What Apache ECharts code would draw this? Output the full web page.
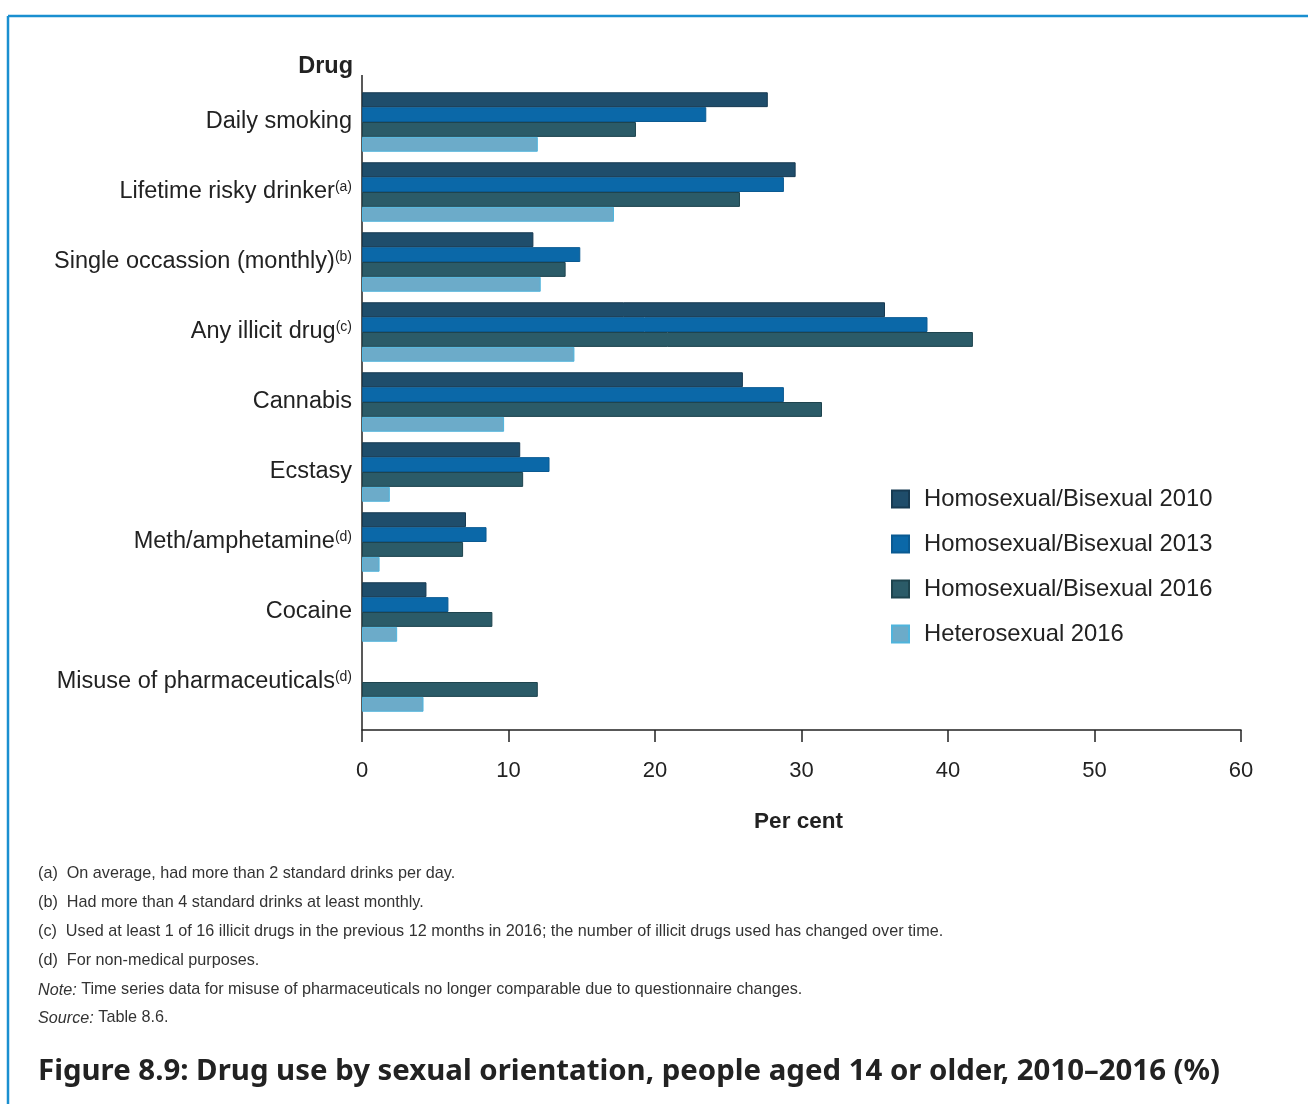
<!DOCTYPE html>
<html>
<head>
<meta charset="utf-8">
<script src="https://cdn.jsdelivr.net/npm/echarts@6/dist/echarts.min.js"></script>
<style>
html,body{margin:0;padding:0;background:#fff;}
#chart{width:1308px;height:1104px;}
</style>
</head>
<body>
<div id="chart"></div>
<script>
const categories = ['Daily smoking', 'Lifetime risky drinker{s|(a)}', 'Single occassion (monthly){s|(b)}', 'Any illicit drug{s|(c)}', 'Cannabis', 'Ecstasy', 'Meth/amphetamine{s|(d)}', 'Cocaine', 'Misuse of pharmaceuticals{s|(d)}'];
const seriesNames = ['Homosexual/Bisexual 2010', 'Homosexual/Bisexual 2013', 'Homosexual/Bisexual 2016', 'Heterosexual 2016'];
const homo2010 = [27.7, 29.6, 11.7, 35.7, 26.0, 10.8, 7.1, 4.4, null];
const homo2013 = [23.5, 28.8, 14.9, 38.6, 28.8, 12.8, 8.5, 5.9, null];
const homo2016 = [18.7, 25.8, 13.9, 41.7, 31.4, 11.0, 6.9, 8.9, 12.0];
const hetero2016 = [12.0, 17.2, 12.2, 14.5, 9.7, 1.9, 1.2, 2.4, 4.2];
const xTicks = [0, 10, 20, 30, 40, 50, 60];
const footnotes = [
  '(a)  On average, had more than 2 standard drinks per day.',
  '(b)  Had more than 4 standard drinks at least monthly.',
  '(c)  Used at least 1 of 16 illicit drugs in the previous 12 months in 2016; the number of illicit drugs used has changed over time.',
  '(d)  For non-medical purposes.'
];
const noteText = ['Note:', ' Time series data for misuse of pharmaceuticals no longer comparable due to questionnaire changes.'];
const sourceText = ['Source:', ' Table 8.6.'];
const figureTitle = 'Figure 8.9: Drug use by sexual orientation, people aged 14 or older, 2010\u20132016 (%)';

const colors = ['#1f4d6b', '#0b68a8', '#2b5b68', '#6cabc9'];
const borders = ['#173a52', '#0a5a92', '#1e444e', '#4fb4dc'];
const dataSets = [homo2010, homo2013, homo2016, hetero2016];

const chart = echarts.init(document.getElementById('chart'), null, {renderer: 'canvas'});
const FONT = '"Liberation Sans", Arial, sans-serif';
const NOTEFONT = '"Liberation Sans", sans-serif';

const footGraphics = footnotes.map((t, i) => ({
  type: 'text', left: 38, top: 866 + i * 29,
  style: {text: t, font: '16.2px ' + NOTEFONT, fill: '#333'}
}));
footGraphics.push({
  type: 'text', left: 38, top: 866 + 4 * 29,
  style: {text: '{i|' + noteText[0] + '}' + noteText[1], font: '16.2px ' + NOTEFONT, fill: '#333',
    rich: {i: {fontStyle: 'italic', fontFamily: NOTEFONT, fontSize: 16.2, fill: '#333'}}}
});
footGraphics.push({
  type: 'text', left: 38, top: 866 + 5 * 29 - 1,
  style: {text: '{i|' + sourceText[0] + '}' + sourceText[1], font: '16.2px ' + NOTEFONT, fill: '#333',
    rich: {i: {fontStyle: 'italic', fontFamily: NOTEFONT, fontSize: 16.2, fill: '#333'}}}
});

const option = {
  backgroundColor: '#ffffff',
  animation: false,
  grid: {left: 362, right: 67, top: 87, height: 630, containLabel: false},
  xAxis: {
    type: 'value', min: 0, max: 60, interval: 10, offset: 13,
    axisLine: {show: true, lineStyle: {color: '#222', width: 1.5}},
    axisTick: {show: true, length: 12, lineStyle: {color: '#222', width: 1.5}},
    splitLine: {show: false},
    axisLabel: {color: '#222', fontSize: 22, fontFamily: FONT, margin: 30,
      formatter: v => xTicks.includes(v) ? String(v) : ''},
    name: 'Per cent', nameLocation: 'middle', nameGap: 80,
    nameTextStyle: {color: '#222', fontSize: 22.5, fontWeight: 'bold', fontFamily: FONT, padding: [0, 6, 0, 0]}
  },
  yAxis: {
    type: 'category', data: categories, inverse: true,
    axisLine: {show: false}, axisTick: {show: false},
    axisLabel: {color: '#222', fontSize: 23.5, fontFamily: FONT, margin: 10,
      rich: {s: {fontSize: 14, fontFamily: FONT, color: '#222', verticalAlign: 'top', padding: [0, 0, 10, 0]}}}
  },
  legend: {
    orient: 'vertical', left: 886, top: 482, itemWidth: 17, itemHeight: 17, itemGap: 21,
    icon: 'rect', data: seriesNames,
    textStyle: {color: '#222', fontSize: 23.8, fontFamily: FONT, lineHeight: 24, padding: [0, 0, 0, 10]}
  },
  graphic: [
    {type: 'line', shape: {x1: 8, y1: 16, x2: 1308, y2: 16}, style: {stroke: '#1a8fd0', lineWidth: 2.5}},
    {type: 'line', shape: {x1: 8, y1: 16, x2: 8, y2: 1104}, style: {stroke: '#1a8fd0', lineWidth: 2.5}},
    {type: 'line', shape: {x1: 362, y1: 75, x2: 362, y2: 730}, style: {stroke: '#222', lineWidth: 1.5}},
    {type: 'text', right: 1308 - 353, top: 55, style: {text: 'Drug', font: 'bold 23.5px ' + FONT, fill: '#222'}},
    ...footGraphics,
    {type: 'text', left: 38, top: 1057, style: {text: figureTitle, font: 'bold 29.4px "Noto Sans", sans-serif', fill: '#222'}}
  ],
  series: dataSets.map((d, i) => ({
    name: seriesNames[i], type: 'bar', data: d,
    barGap: '0%', barCategoryGap: '15%',
    itemStyle: {color: colors[i], borderColor: borders[i], borderWidth: 1}
  }))
};
chart.setOption(option);
</script>
</body>
</html>
